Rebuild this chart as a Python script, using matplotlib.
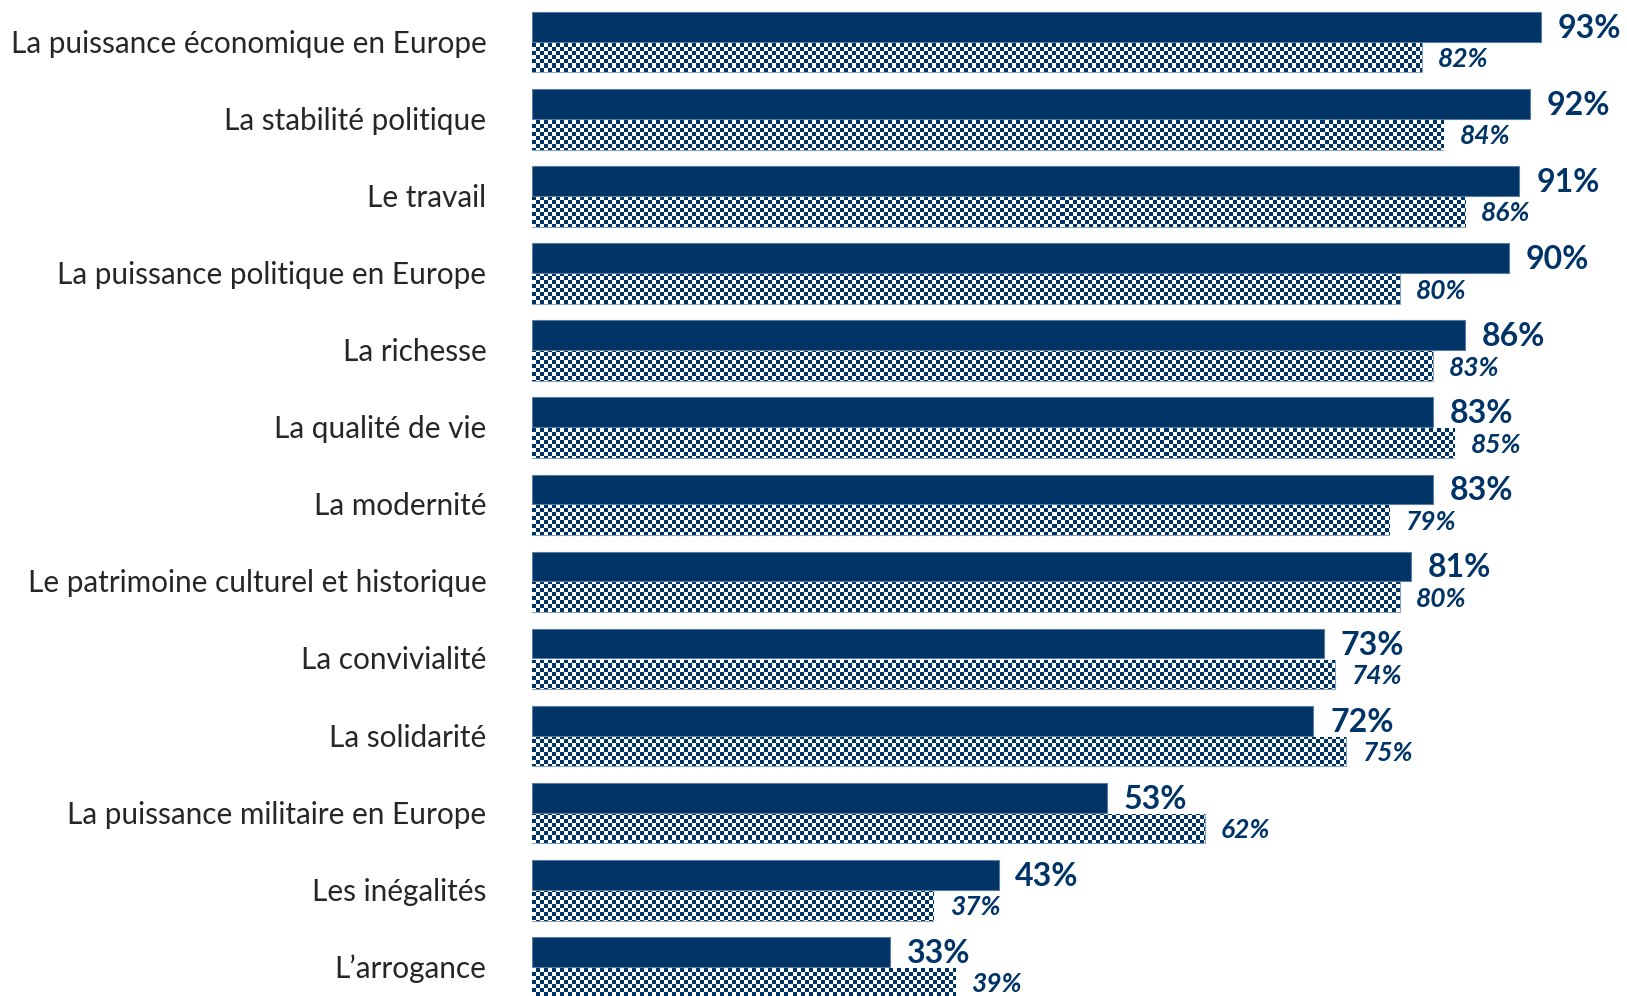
import matplotlib.pyplot as plt
import numpy as np

categories = ["La puissance économique en Europe", "La stabilité politique", "Le travail",
              "La puissance politique en Europe", "La richesse", "La qualité de vie",
              "La modernité", "Le patrimoine culturel et historique", "La convivialité",
              "La solidarité", "La puissance militaire en Europe", "Les inégalités",
              "L\u2019arrogance"]
solid_vals = [93, 92, 91, 90, 86, 83, 83, 81, 73, 72, 53, 43, 33]
checker_vals = [82, 84, 86, 80, 83, 85, 79, 80, 74, 75, 62, 37, 39]

navy = '#003366'
plt.rcParams['font.family'] = ['Lato', 'DejaVu Sans']

fig = plt.figure(figsize=(16.27, 9.96), dpi=100)
ax = fig.add_axes([532 / 1627, 0, 1 - 532 / 1627, 1])
ax.set_xlim(0, (1627 - 532) / 10.85)
ax.set_ylim(12.371, -0.547)
ax.axis('off')

y = np.arange(len(categories))
h = 0.385
bars1 = ax.barh(y - 0.2, solid_vals, height=h, color=navy, edgecolor='#5a7ca0', linewidth=0.8)
bars2 = ax.barh(y + 0.2, checker_vals, height=h, color='white', edgecolor='#8aa3bf', linewidth=0.8)

# checkerboard fill, 4px cells, clipped to each bar
nx, ny = 1095 // 4 + 1, 996 // 4 + 1
board = (np.add.outer(np.arange(ny), np.arange(nx)) % 2).astype(float)
cmap = plt.matplotlib.colors.ListedColormap(['white', navy])
x0, x1 = ax.get_xlim()
y0, y1 = ax.get_ylim()
for b in bars2:
    im = ax.imshow(board, cmap=cmap, extent=[x0, x0 + nx * 4 / 10.85, y1 + ny * 4 / 77.1, y1],
                   interpolation='nearest', aspect='auto', zorder=1.5)
    im.set_clip_path(b)
ax.set_xlim(x0, x1)
ax.set_ylim(y0, y1)

for yi, v in zip(y, solid_vals):
    ax.text(v + 1.55, yi - 0.2 + 0.143, f"{v}%", color=navy, fontsize=23, fontweight='bold',
            va='baseline', ha='left')
for yi, v in zip(y, checker_vals):
    ax.text(v + 1.5, yi + 0.205 + 0.12, f"{v}%", color=navy, fontsize=19, fontweight='bold',
            fontstyle='italic', va='baseline', ha='left')

for yi, c in zip(y, categories):
    ax.text(-4.2, yi + 0.136, c, color='#262626', fontsize=21.4, va='baseline', ha='right',
            clip_on=False)

fig.savefig('out.png', dpi=100)
